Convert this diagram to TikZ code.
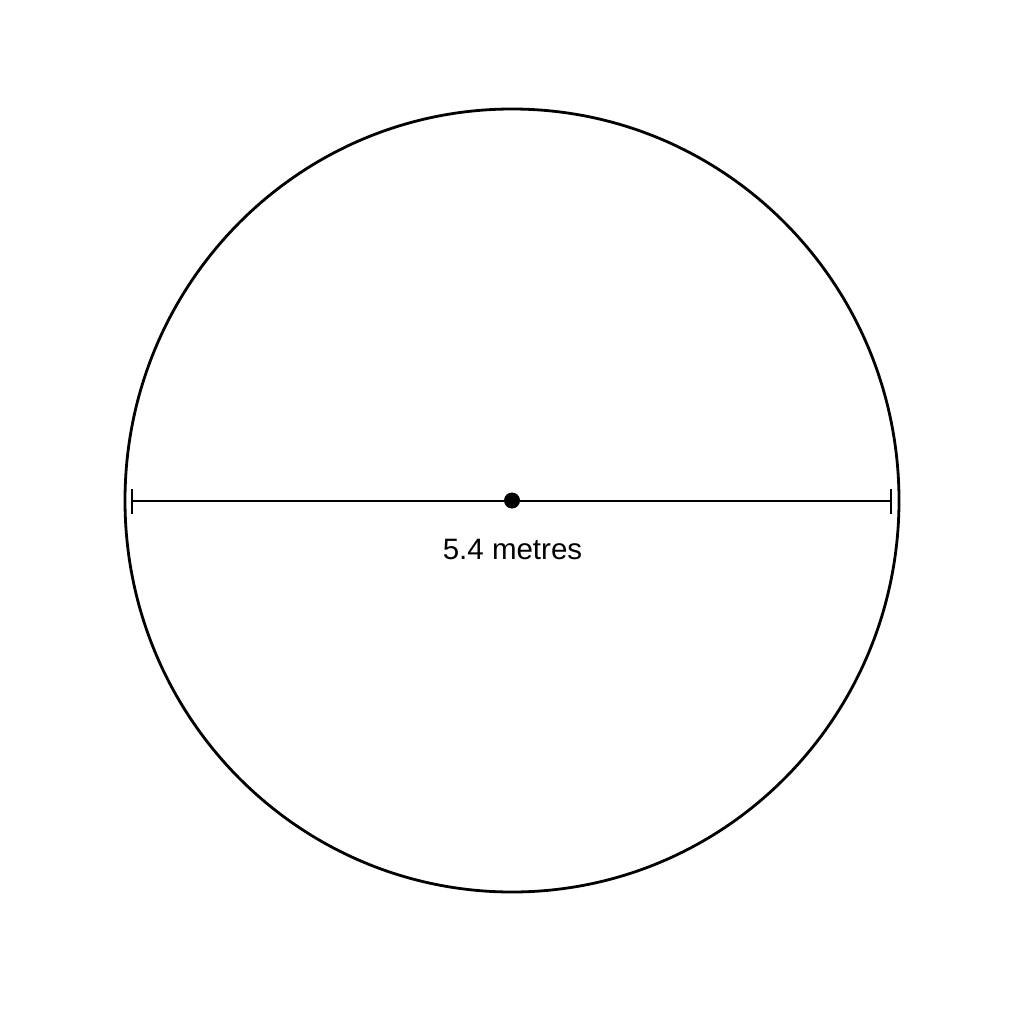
\documentclass[tikz,border=0pt]{standalone}
\usepackage{fontspec}
\setmainfont{Liberation Sans}
\begin{document}
\begin{tikzpicture}[x=1pt,y=-1pt,
  outline/.style={draw=black,line width=2.8pt},
  dimline/.style={draw=black,line width=2.2pt},
  tickmark/.style={draw=black,line width=2.2pt},
  label/.style={font=\fontsize{29.5}{34}\selectfont,text=black,inner sep=0pt,anchor=base}]
\useasboundingbox[fill=white] (0,0) rectangle (1024,1024);
\coordinate (c) at (512,500.5);
\draw[outline] (c) ellipse [x radius=387, y radius=391.5];
\coordinate (l) at (132,501);
\coordinate (r) at (891,501);
\draw[dimline] (l) -- (r);
\draw[tickmark] ([yshift=-12.5]l) -- ([yshift=12.5]l);
\draw[tickmark] ([yshift=-12.5]r) -- ([yshift=12.5]r);
\fill[black] (c) circle [radius=8];
\node[label] (t) at (512.5,559.5) {5.4 metres};
\end{tikzpicture}
\end{document}
